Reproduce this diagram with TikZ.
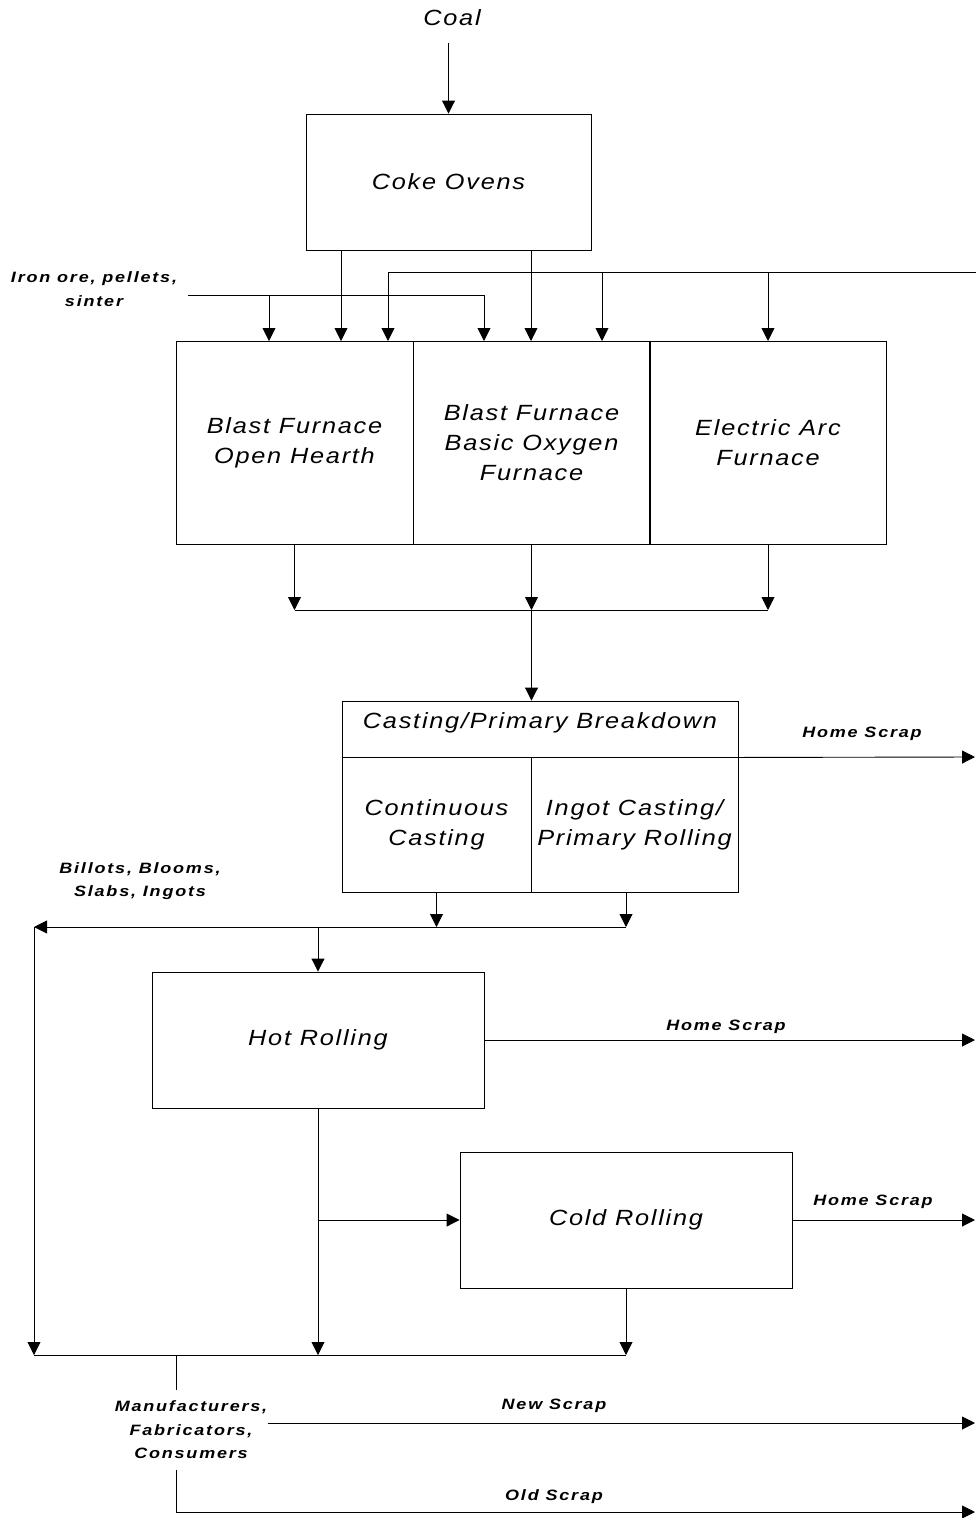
\documentclass[tikz,border=0pt]{standalone}
\usepackage{fontspec}
\setmainfont{Liberation Sans}
\newfontfamily\flowfamily[FakeStretch=1.15, LetterSpace=8]{Liberation Sans}
\newfontfamily\tagfamily[FakeStretch=1.2, LetterSpace=12]{Liberation Sans}
\newcommand{\flowfont}{\flowfamily\itshape\fontsize{22}{30}\selectfont}
\newcommand{\tagfont}{\tagfamily\bfseries\itshape\fontsize{15}{23.5}\selectfont}
\usetikzlibrary{arrows.meta}

\begin{document}
\begin{tikzpicture}[x=1pt, y=-1pt, line width=0.9pt,
box/.style={draw, font=\flowfont, align=center, inner sep=0pt},
txt/.style={font=\flowfont, align=center, inner sep=0pt},
lbl/.style={font=\tagfont, align=center, inner sep=0pt},
arr/.style={-{Triangle[width=13pt,length=13pt]}}]
\useasboundingbox (0,0) rectangle (976,1518);
\node[txt] (coal) at (452,18) {Coal};
\node[box, minimum width=285pt, minimum height=136pt] (coke) at (448.5,182) {Coke Ovens};
\node[lbl] (ore) at (94,289) {Iron ore, pellets,\\sinter};
\node[box, minimum width=237pt, minimum height=203pt] (bfoh) at (294.5,442.5) {Blast Furnace\\Open Hearth};
\node[box, minimum width=237pt, minimum height=203pt] (bof) at (531.5,442.5) {Blast Furnace\\Basic Oxygen\\Furnace};
\node[box, minimum width=237pt, minimum height=203pt] (eaf) at (768,442.5) {Electric Arc\\Furnace};
\draw[arr, shorten <=16pt] (coal.south -| coke.north) -- (coke.north);
% inputs to the furnaces
\coordinate (c1) at (341,341);
\coordinate (c2) at (531,341);
\draw[arr] (coke.south -| c1) -- (c1);
\draw[arr] (coke.south -| c2) -- (c2);
\coordinate (o0) at (188,295);
\coordinate (o1) at (269,341);
\coordinate (o2) at (484,341);
\draw[arr] (o0) -| (o2);
\draw[arr] (o0 -| o1) -- (o1);
\coordinate (s0) at (976,272);
\coordinate (s1) at (388,341);
\coordinate (s2) at (602,341);
\coordinate (s3) at (768,341);
\draw[arr] (s0) -| (s1);
\draw[arr] (s0 -| s2) -- (s2);
\draw[arr] (s0 -| s3) -- (s3);
% casting
\node[box, minimum width=396pt, minimum height=56pt] (castt) at (540,729) {\raisebox{6pt}[\height][\depth]{Casting/Primary Breakdown}};
\node[box, minimum width=189pt, minimum height=135pt] (cc) at (436.5,824.5) {Continuous\\Casting};
\node[box, minimum width=207pt, minimum height=135pt] (ic) at (634.5,824.5) {Ingot Casting/\\Primary Rolling};
\coordinate (m) at (531.5,610);
\draw[arr] (bfoh.south) -- (bfoh.south |- m);
\draw[arr] (bof.south) -- (m);
\draw[arr] (eaf.south) -- (eaf.south |- m);
\draw (bfoh.south |- m) -- (eaf.south |- m);
\draw[arr] (m) -- (m |- castt.north);
\coordinate (e1) at (975,757);
\draw[arr] (castt.south east) -- (e1);
\node[lbl] at (862,734) {Home Scrap};
\node[lbl] at (140,881) {Billots, Blooms,\\Slabs, Ingots};
% rolling
\node[box, minimum width=332pt, minimum height=136pt] (hot) at (318,1040) {Hot Rolling};
\node[box, minimum width=332pt, minimum height=136pt] (cold) at (626,1220) {Cold Rolling};
\coordinate (b0) at (34,927);
\coordinate (b1) at (626,927);
\coordinate (fin) at (176,1355);
\draw[arr] (cc.south) -- (cc.south |- b1);
\draw[arr] (b1 |- ic.south) -- (b1);
\draw[arr] (b1) -- (b0);
\draw[arr] (b0) -- (b0 |- fin);
\draw[arr] (hot.north |- b0) -- (hot.north);
\coordinate (e2) at (975,1040);
\draw[arr] (hot.east) -- (e2);
\node[lbl] at (726,1027) {Home Scrap};
\draw[arr] (hot.south |- cold.west) -- (cold.west);
\draw[arr] (hot.south) -- (hot.south |- fin);
\draw[arr] (cold.south) -- (cold.south |- fin);
\coordinate (e3) at (975,1220);
\draw[arr] (cold.east) -- (e3);
\node[lbl] at (873,1202) {Home Scrap};
\draw (b0 |- fin) -- (cold.south |- fin);
% end use
\node[lbl] (mfc) at (191,1430) {Manufacturers,\\Fabricators,\\Consumers};
\draw (fin) -- ++(0,35);
\coordinate (e4) at (975,1423);
\coordinate (e5) at (975,1512);
\draw[arr] (mfc.east |- e4) -- (e4);
\draw[arr] (fin |- 0,1470) |- (e5);
\node[lbl] at (554,1406) {New Scrap};
\node[lbl] at (554,1497) {Old Scrap};
\end{tikzpicture}
\end{document}
